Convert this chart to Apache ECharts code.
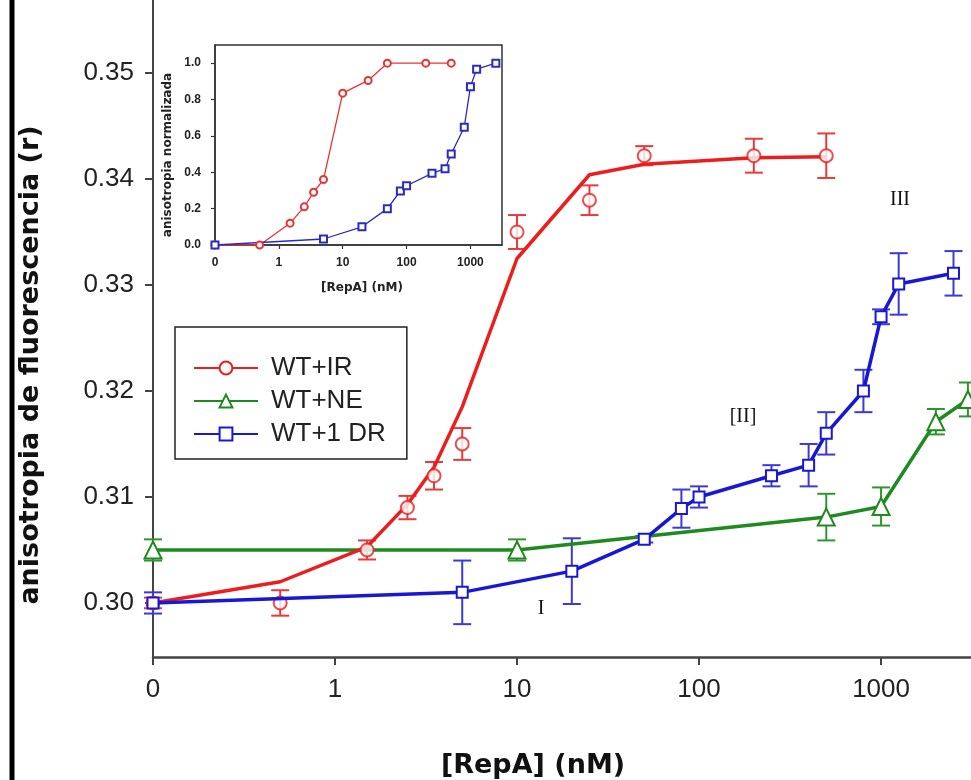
<!DOCTYPE html>
<html><head><meta charset="utf-8">
<script src="https://cdn.jsdelivr.net/npm/echarts@6/dist/echarts.min.js"></script>
<style>html,body{margin:0;padding:0;background:#fff}#c{width:971px;height:780px}</style>
</head><body><div id="c"></div>
<script>
// position of the "0" concentration on the log axis
const ZERO_POS = 0.1;

// WT+IR
const irX = [0, 0.5, 1.5, 2.5, 3.5, 5, 10, 25, 50, 200, 500];
const irY = [0.300, 0.300, 0.305, 0.309, 0.312, 0.315, 0.335, 0.338, 0.3422, 0.3422, 0.3422];
const irErr = [0.0005, 0.0012, 0.0009, 0.0011, 0.0013, 0.0015, 0.0016, 0.0014, 0.0009, 0.0016, 0.0021];
const irFit = [0.300, 0.302, 0.3053, 0.3093, 0.3128, 0.3185, 0.3325, 0.3404, 0.3414, 0.3420, 0.3421];

// WT+NE
const neX = [0, 10, 500, 1000, 2000, 3000];
const neY = [0.305, 0.305, 0.3081, 0.3091, 0.3171, 0.3192];
const neErr = [0.001, 0.001, 0.0022, 0.0018, 0.0012, 0.0016];

// WT+1 DR
const drX = [0, 5, 20, 50, 80, 100, 250, 400, 500, 800, 1000, 1250, 2500];
const drY = [0.300, 0.301, 0.303, 0.306, 0.3089, 0.310, 0.312, 0.313, 0.316, 0.320, 0.327, 0.3301, 0.3311];
const drErr = [0.001, 0.003, 0.0031, 0.0003, 0.0018, 0.001, 0.001, 0.002, 0.002, 0.002, 0.0007, 0.0029, 0.0021];

// inset (normalised anisotropy)
const insetIrY = [0, 0, 0.12, 0.21, 0.29, 0.36, 0.835, 0.905, 1.0, 1.0, 1.0];
const insetDrY = [0, 0.033, 0.10, 0.20, 0.297, 0.326, 0.394, 0.42, 0.50, 0.648, 0.871, 0.967, 1.0];

// ticks
const mainYTicks = [0.30, 0.31, 0.32, 0.33, 0.34, 0.35];
const xTickVals = [0.1, 1, 10, 100, 1000];
const xTickLabels = ['0', '1', '10', '100', '1000'];
const insetYTicks = [0, 0.2, 0.4, 0.6, 0.8, 1.0];

const names = ['WT+IR', 'WT+NE', 'WT+1 DR'];
const RED = '#ee1d1d', GREEN = '#1f8a1f', BLUE = '#1818d4';

const pos = x => (x === 0 ? ZERO_POS : x);
const pairs = (xs, ys) => xs.map((x, i) => [pos(x), ys[i]]);
const xLabel = v => {
  let best = 0, bd = Infinity;
  xTickVals.forEach((t, i) => { const d = Math.abs(Math.log10(t) - Math.log10(v)); if (d < bd) { bd = d; best = i; } });
  return xTickLabels[best];
};

function errSeries(xs, ys, es, color) {
  return {
    type: 'custom', xAxisIndex: 0, yAxisIndex: 0, z: 2, silent: true, clip: false,
    encode: { x: 0, y: [1, 2] },
    data: xs.map((x, i) => [pos(x), ys[i] - es[i], ys[i] + es[i]]),
    renderItem: (params, api) => {
      const lo = api.coord([api.value(0), api.value(1)]);
      const hi = api.coord([api.value(0), api.value(2)]);
      const w = 9;
      const style = { stroke: color, lineWidth: 2, fill: null };
      return { type: 'group', children: [
        { type: 'line', shape: { x1: lo[0], y1: lo[1], x2: hi[0], y2: hi[1] }, style },
        { type: 'line', shape: { x1: lo[0] - w, y1: lo[1], x2: lo[0] + w, y2: lo[1] }, style },
        { type: 'line', shape: { x1: hi[0] - w, y1: hi[1], x2: hi[0] + w, y2: hi[1] }, style }
      ] };
    }
  };
}

const FONT = 'Liberation Sans, Arial, sans-serif';
const chart = echarts.init(document.getElementById('c'), null, { renderer: 'canvas' });

const option = {
  animation: false,
  backgroundColor: '#fff',
  grid: [
    { left: 153, right: 0, top: 0, bottom: 123, containLabel: false },
    { left: 215, top: 45, width: 287, height: 200, show: true, backgroundColor: '#fff', borderColor: '#333', borderWidth: 1.5, z: 5 }
  ],
  xAxis: [
    { type: 'log', gridIndex: 0, min: 0.1, max: 3120, logBase: 10,
      axisLine: { lineStyle: { color: '#444', width: 2.5 } },
      axisTick: { show: true, length: 8, lineStyle: { color: '#444', width: 2 }, customValues: xTickVals },
      axisLabel: { customValues: xTickVals, formatter: xLabel, fontSize: 26, fontFamily: FONT, color: '#222', margin: 20 },
      splitLine: { show: false }, minorTick: { show: false } },
    { type: 'log', gridIndex: 1, min: 0.1, max: 3120, logBase: 10, z: 6,
      axisLine: { lineStyle: { color: '#333', width: 1.5 } },
      axisTick: { show: true, length: 4, lineStyle: { color: '#333', width: 1.2 }, customValues: xTickVals },
      axisLabel: { customValues: xTickVals, formatter: xLabel, fontSize: 12, fontWeight: 'bold', fontFamily: FONT, color: '#222', margin: 12 },
      splitLine: { show: false } }
  ],
  yAxis: [
    { type: 'value', gridIndex: 0, min: 0.2949, max: 0.35689,
      axisLine: { show: true, lineStyle: { color: '#444', width: 2 } },
      axisTick: { show: true, length: 8, lineStyle: { color: '#444', width: 2 }, customValues: mainYTicks },
      axisLabel: { customValues: mainYTicks, formatter: v => v.toFixed(2), fontSize: 26, fontFamily: FONT, color: '#222', margin: 19 },
      splitLine: { show: false } },
    { type: 'value', gridIndex: 1, min: 0, max: 1.1, z: 6,
      axisLine: { show: true, lineStyle: { color: '#333', width: 1.5 } },
      axisTick: { show: true, length: 4, lineStyle: { color: '#333', width: 1.2 }, customValues: insetYTicks },
      axisLabel: { customValues: insetYTicks, formatter: v => v.toFixed(1), fontSize: 12, fontWeight: 'bold', fontFamily: FONT, color: '#222', margin: 14 },
      splitLine: { show: false } }
  ],
  legend: {
    data: names, orient: 'vertical', left: 175, top: 327,
    itemWidth: 64, itemHeight: 16, itemGap: 7,
    padding: [28, 21, 12, 18],
    borderColor: '#222', borderWidth: 1.5, backgroundColor: '#fff',
    textStyle: { fontSize: 26, fontFamily: FONT, color: '#222', padding: [0, 0, 0, 8] },
    selectedMode: false, z: 10
  },
  series: [
    errSeries(neX, neY, neErr, '#2f962f'),
    errSeries(irX, irY, irErr, '#e83a3a'),
    errSeries(drX, drY, drErr, '#3a3ad8'),
    { name: 'WT+NE', type: 'line', xAxisIndex: 0, yAxisIndex: 0, z: 3, clip: false,
      data: pairs(neX, neY), symbol: 'emptyTriangle', symbolSize: 17, showAllSymbol: true,
      lineStyle: { color: GREEN, width: 3.5 }, itemStyle: { color: GREEN, borderWidth: 2.5 } },
    { name: 'WT+IR', type: 'line', xAxisIndex: 0, yAxisIndex: 0, z: 3, clip: false,
      data: pairs(irX, irFit), showSymbol: false, symbol: 'emptyCircle', symbolSize: 13,
      lineStyle: { color: RED, width: 3.5 }, itemStyle: { color: RED, borderWidth: 2.5 } },
    { name: 'WT+IR data', type: 'scatter', xAxisIndex: 0, yAxisIndex: 0, z: 4, clip: false,
      data: pairs(irX, irY), symbol: 'emptyCircle', symbolSize: 13,
      itemStyle: { color: RED, borderWidth: 2.5 } },
    { name: 'WT+1 DR', type: 'line', xAxisIndex: 0, yAxisIndex: 0, z: 5, clip: false,
      data: pairs(drX, drY), symbol: 'emptyRect', symbolSize: 11, showAllSymbol: true,
      lineStyle: { color: BLUE, width: 3.5 }, itemStyle: { color: BLUE, borderWidth: 2.5 } },
    { name: 'inset IR', type: 'line', xAxisIndex: 1, yAxisIndex: 1, z: 7, clip: false,
      data: pairs(irX, insetIrY), symbol: 'emptyCircle', symbolSize: 7, showAllSymbol: true,
      lineStyle: { color: '#e83333', width: 1.3 }, itemStyle: { color: '#e83333', borderWidth: 1.3 } },
    { name: 'inset DR', type: 'line', xAxisIndex: 1, yAxisIndex: 1, z: 7, clip: false,
      data: pairs(drX, insetDrY), symbol: 'emptyRect', symbolSize: 7, showAllSymbol: true,
      lineStyle: { color: '#2b2bc4', width: 1.3 }, itemStyle: { color: '#2b2bc4', borderWidth: 1.3 } }
  ],
  graphic: [
    { type: 'line', shape: { x1: 12, y1: 0, x2: 12, y2: 780 }, style: { stroke: '#000', lineWidth: 5 }, z: 20 },
    { type: 'text', x: 31, y: 365, rotation: Math.PI / 2, z: 20,
      style: { text: 'anisotropia de fluorescencia (r)', font: 'bold 27px "DejaVu Sans", sans-serif', fill: '#111', textAlign: 'center', textVerticalAlign: 'middle' } },
    { type: 'text', x: 533, y: 766, z: 20,
      style: { text: '[RepA] (nM)', font: 'bold 27px "DejaVu Sans", sans-serif', fill: '#111', textAlign: 'center', textVerticalAlign: 'middle' } },
    { type: 'text', x: 362, y: 288, z: 20,
      style: { text: '[RepA] (nM)', font: 'bold 12px "DejaVu Sans", sans-serif', fill: '#222', textAlign: 'center', textVerticalAlign: 'middle' } },
    { type: 'text', x: 168, y: 155, rotation: Math.PI / 2, z: 20,
      style: { text: 'anisotropia normalizada', font: 'bold 12px "DejaVu Sans", sans-serif', fill: '#222', textAlign: 'center', textVerticalAlign: 'middle' } },
    { type: 'text', x: 541, y: 609, z: 20,
      style: { text: 'I', font: '20px "Liberation Serif", "Times New Roman", serif', fill: '#111', textAlign: 'center', textVerticalAlign: 'middle' } },
    { type: 'text', x: 743, y: 417, z: 20,
      style: { text: '[II]', font: '20px "Liberation Serif", "Times New Roman", serif', fill: '#111', textAlign: 'center', textVerticalAlign: 'middle' } },
    { type: 'text', x: 900, y: 200, z: 20,
      style: { text: 'III', font: '20px "Liberation Serif", "Times New Roman", serif', fill: '#111', textAlign: 'center', textVerticalAlign: 'middle' } }
  ]
};
chart.setOption(option);
</script>
</body></html>
